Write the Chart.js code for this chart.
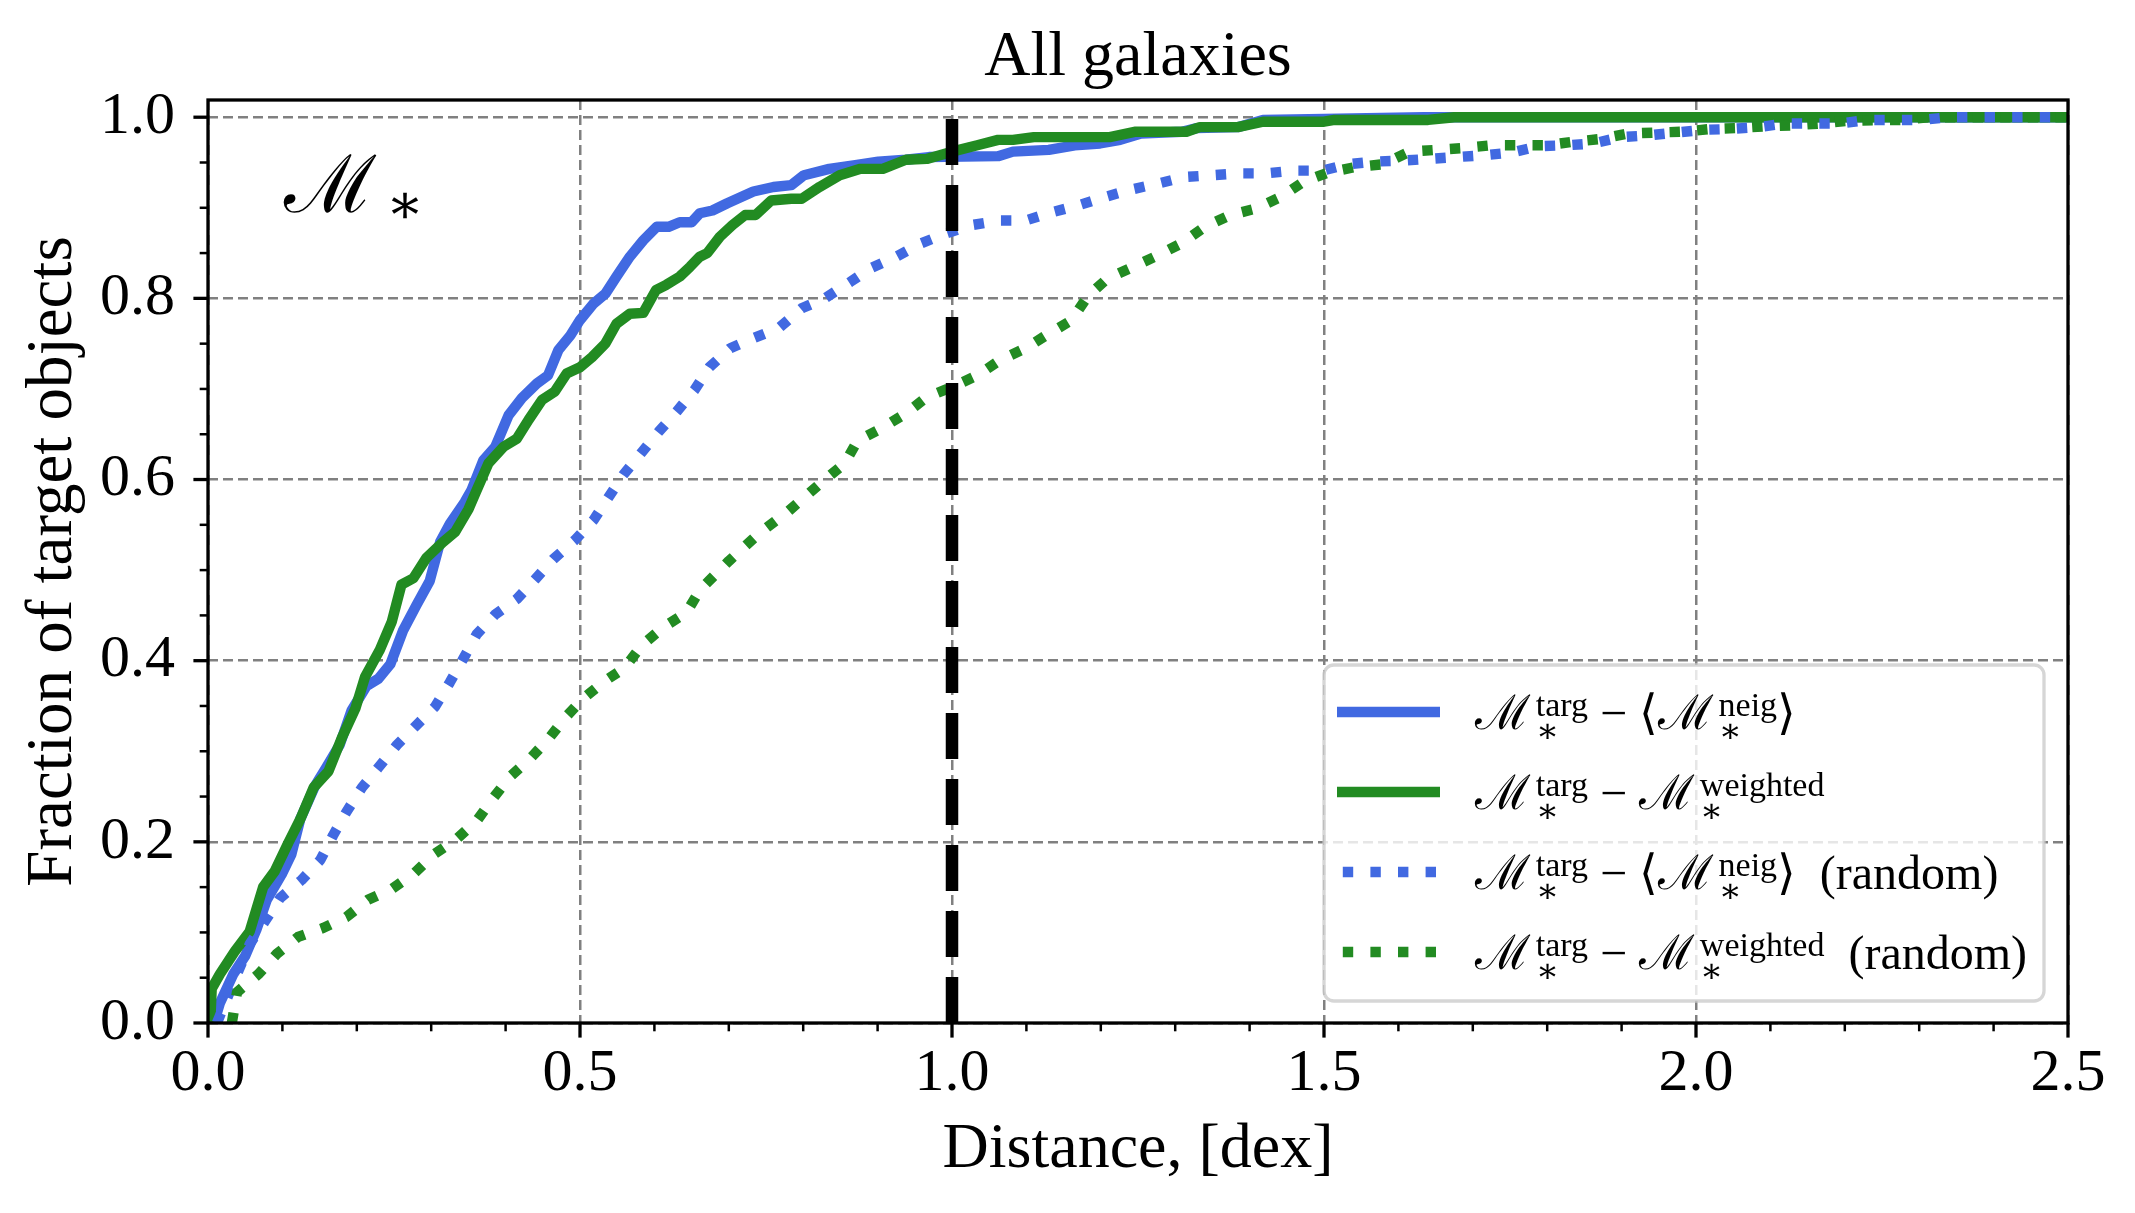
<!DOCTYPE html>
<html>
<head>
<meta charset="utf-8">
<title>All galaxies</title>
<script src="https://cdn.jsdelivr.net/npm/chart.js@4.4.1/dist/chart.umd.min.js"></script>
<style>
  html, body { margin: 0; padding: 0; background: #fff; }
  #wrap { width: 2135px; height: 1213px; }
</style>
</head>
<body>
<div id="wrap"><canvas id="chart" width="2135" height="1213"></canvas></div>
<script>
// Cumulative fraction of target objects vs distance (dex), all galaxies.
var FAMILY = '"Liberation Serif", "DejaVu Serif", serif';
var TITLE = 'All galaxies';

// ---------------- Axes ----------------
var xTicks = [0, 0.5, 1.0, 1.5, 2.0, 2.5];
var xTickLabels = ['0.0', '0.5', '1.0', '1.5', '2.0', '2.5'];
var xMinorTicks = [0.1, 0.2, 0.3, 0.4, 0.6, 0.7, 0.8, 0.9, 1.1, 1.2, 1.3, 1.4, 1.6, 1.7, 1.8, 1.9, 2.1, 2.2, 2.3, 2.4];
var yTicks = [0, 0.2, 0.4, 0.6, 0.8, 1.0];
var yTickLabels = ['0.0', '0.2', '0.4', '0.6', '0.8', '1.0'];
var yMinorTicks = [0.05, 0.1, 0.15, 0.25, 0.3, 0.35, 0.45, 0.5, 0.55, 0.65, 0.7, 0.75, 0.85, 0.9, 0.95];

// ---------------- Series ----------------
// M*targ - <M*neig>
var neigX = [0.008, 0.016, 0.034, 0.050, 0.065, 0.079, 0.099, 0.112, 0.124, 0.144, 0.159, 0.177, 0.193, 0.213, 0.229, 0.245, 0.262, 0.280, 0.298, 0.312, 0.325, 0.345, 0.354, 0.370, 0.386, 0.404, 0.422, 0.442, 0.457, 0.471, 0.487, 0.500, 0.518, 0.534, 0.549, 0.567, 0.585, 0.603, 0.619, 0.634, 0.650, 0.661, 0.678, 0.698, 0.733, 0.760, 0.784, 0.801, 0.835, 0.870, 0.901, 0.938, 0.969, 1.062, 1.082, 1.130, 1.165, 1.199, 1.226, 1.254, 1.309, 1.329, 1.384, 1.418, 1.500, 1.634, 2.500];
var neigY = [0.000, 0.022, 0.054, 0.074, 0.103, 0.136, 0.164, 0.186, 0.225, 0.262, 0.282, 0.307, 0.345, 0.372, 0.380, 0.396, 0.433, 0.461, 0.488, 0.531, 0.551, 0.575, 0.588, 0.621, 0.636, 0.671, 0.690, 0.706, 0.715, 0.743, 0.759, 0.776, 0.794, 0.805, 0.824, 0.846, 0.864, 0.879, 0.879, 0.884, 0.884, 0.894, 0.897, 0.905, 0.918, 0.923, 0.925, 0.936, 0.943, 0.947, 0.951, 0.953, 0.956, 0.957, 0.962, 0.964, 0.969, 0.971, 0.975, 0.982, 0.984, 0.988, 0.989, 0.997, 0.998, 1.000, 1.000];

// M*targ - M*weighted
var weightedX = [0.003, 0.005, 0.016, 0.036, 0.056, 0.074, 0.090, 0.108, 0.124, 0.142, 0.162, 0.180, 0.198, 0.211, 0.231, 0.247, 0.260, 0.276, 0.294, 0.316, 0.332, 0.350, 0.361, 0.377, 0.397, 0.415, 0.431, 0.449, 0.466, 0.482, 0.500, 0.516, 0.534, 0.549, 0.567, 0.585, 0.602, 0.616, 0.634, 0.648, 0.661, 0.671, 0.688, 0.705, 0.722, 0.736, 0.757, 0.784, 0.798, 0.822, 0.849, 0.877, 0.907, 0.938, 0.966, 1.000, 1.034, 1.062, 1.082, 1.110, 1.212, 1.247, 1.315, 1.333, 1.384, 1.418, 1.500, 1.514, 1.640, 1.675, 2.500];
var weightedY = [0.000, 0.038, 0.054, 0.079, 0.101, 0.150, 0.168, 0.199, 0.225, 0.260, 0.278, 0.315, 0.347, 0.382, 0.412, 0.443, 0.484, 0.491, 0.514, 0.531, 0.542, 0.567, 0.588, 0.618, 0.636, 0.645, 0.666, 0.688, 0.697, 0.717, 0.724, 0.735, 0.750, 0.772, 0.783, 0.784, 0.809, 0.815, 0.824, 0.835, 0.846, 0.850, 0.868, 0.881, 0.892, 0.892, 0.908, 0.910, 0.910, 0.923, 0.936, 0.943, 0.943, 0.953, 0.954, 0.962, 0.969, 0.975, 0.975, 0.978, 0.978, 0.984, 0.984, 0.989, 0.989, 0.995, 0.995, 0.997, 0.997, 1.000, 1.000];

// M*targ - <M*neig> (random)
var neigRandX = [0.012, 0.041, 0.056, 0.077, 0.097, 0.126, 0.151, 0.168, 0.186, 0.207, 0.229, 0.254, 0.278, 0.305, 0.325, 0.343, 0.361, 0.386, 0.415, 0.440, 0.464, 0.493, 0.518, 0.538, 0.558, 0.582, 0.606, 0.630, 0.654, 0.674, 0.702, 0.733, 0.767, 0.798, 0.829, 0.863, 0.890, 0.925, 0.959, 0.993, 1.027, 1.065, 1.099, 1.134, 1.171, 1.206, 1.240, 1.278, 1.312, 1.350, 1.387, 1.422, 1.460, 1.498, 1.531, 1.568, 1.605, 1.642, 1.678, 1.715, 1.752, 1.789, 1.826, 1.862, 1.899, 1.936, 1.973, 2.009, 2.046, 2.083, 2.120, 2.193, 2.230, 2.304, 2.340, 2.500];
var neigRandY = [0.000, 0.058, 0.087, 0.113, 0.138, 0.158, 0.180, 0.207, 0.233, 0.260, 0.282, 0.307, 0.327, 0.349, 0.376, 0.402, 0.429, 0.451, 0.468, 0.490, 0.512, 0.533, 0.555, 0.580, 0.605, 0.629, 0.653, 0.675, 0.699, 0.724, 0.745, 0.756, 0.767, 0.789, 0.800, 0.818, 0.833, 0.846, 0.861, 0.872, 0.881, 0.886, 0.886, 0.895, 0.903, 0.912, 0.920, 0.927, 0.934, 0.936, 0.938, 0.938, 0.941, 0.941, 0.948, 0.951, 0.952, 0.954, 0.956, 0.958, 0.961, 0.968, 0.969, 0.971, 0.978, 0.980, 0.983, 0.986, 0.987, 0.989, 0.993, 0.993, 0.997, 0.997, 1.000, 1.000];

// M*targ - M*weighted (random)
var weightedRandX = [0.032, 0.039, 0.068, 0.092, 0.121, 0.155, 0.186, 0.215, 0.247, 0.278, 0.305, 0.334, 0.361, 0.383, 0.406, 0.433, 0.457, 0.480, 0.504, 0.534, 0.560, 0.583, 0.612, 0.643, 0.661, 0.700, 0.740, 0.780, 0.825, 0.856, 0.873, 0.904, 0.938, 0.966, 1.000, 1.034, 1.065, 1.099, 1.130, 1.161, 1.182, 1.209, 1.244, 1.278, 1.309, 1.340, 1.374, 1.408, 1.442, 1.473, 1.506, 1.542, 1.579, 1.615, 1.652, 1.688, 1.725, 1.799, 1.836, 1.872, 1.909, 1.983, 2.019, 2.056, 2.093, 2.130, 2.167, 2.203, 2.277, 2.313, 2.500];
var weightedRandY = [0.000, 0.034, 0.054, 0.076, 0.095, 0.105, 0.117, 0.136, 0.148, 0.166, 0.187, 0.203, 0.223, 0.248, 0.272, 0.292, 0.313, 0.337, 0.358, 0.378, 0.392, 0.417, 0.437, 0.453, 0.478, 0.510, 0.540, 0.565, 0.597, 0.618, 0.643, 0.656, 0.673, 0.691, 0.702, 0.715, 0.732, 0.745, 0.761, 0.776, 0.802, 0.822, 0.835, 0.848, 0.861, 0.879, 0.892, 0.899, 0.912, 0.929, 0.939, 0.945, 0.948, 0.962, 0.964, 0.966, 0.969, 0.969, 0.973, 0.976, 0.982, 0.984, 0.987, 0.988, 0.990, 0.991, 0.993, 0.996, 0.997, 1.000, 1.000];

// vertical cut at 1 dex
var cutX = [1.0, 1.0];
var cutY = [0.0, 1.0];

function pts(xs, ys) { return xs.map(function (x, i) { return { x: x, y: ys[i] }; }); }

// ---------------- Math-ish text: base^{sup}_{sub} ----------------
function parseMath(str) {
  var re = /\^\{([^}]*)\}|_\{([^}]*)\}|[^^_]+/g, out = [], m;
  while ((m = re.exec(str))) {
    if (m[1] !== undefined) out.push({ kind: 'sup', text: m[1] });
    else if (m[2] !== undefined) out.push({ kind: 'sub', text: m[2] });
    else out.push({ kind: 'base', text: m[0] });
  }
  return out;
}

function drawMath(ctx, str, x, y, size) {
  var parts = parseMath(str);
  var small = Math.round(size * 0.7);
  ctx.textAlign = 'left'; ctx.textBaseline = 'alphabetic'; ctx.fillStyle = '#000';
  for (var i = 0; i < parts.length; i++) {
    var p = parts[i];
    if (p.kind === 'base') {
      ctx.font = size + 'px ' + FAMILY;
      ctx.fillText(p.text, x, y);
      x += ctx.measureText(p.text).width;
      continue;
    }
    var sup = p.kind === 'sup' ? p.text : null, sub = p.kind === 'sub' ? p.text : null;
    var nx = parts[i + 1];
    if (nx && nx.kind !== 'base' && nx.kind !== p.kind) { if (nx.kind === 'sup') sup = nx.text; else sub = nx.text; i++; }
    ctx.font = small + 'px ' + FAMILY;
    var x0 = x + size * 0.12, w = 0;
    if (sup) { ctx.fillText(sup, x0, y - size * 0.28); w = Math.max(w, ctx.measureText(sup).width); }
    if (sub) { ctx.fillText(sub, x0, y + size * (sup ? 0.27 : 0.14)); w = Math.max(w, ctx.measureText(sub).width); }
    x = x0 + w;
  }
}

// ---------------- Title, frame, ticks, label and legend ----------------
var decor = {
  id: 'decor',
  afterDatasetsDraw: function (chart) {
    var ctx = chart.ctx, a = chart.chartArea, sx = chart.scales.x, sy = chart.scales.y;
    var w = a.right - a.left, h = a.bottom - a.top;
    ctx.save();

    // title centred over the axes, not the canvas
    ctx.font = '64px ' + FAMILY;
    ctx.fillStyle = '#000';
    ctx.textAlign = 'center';
    ctx.textBaseline = 'middle';
    ctx.fillText(TITLE, (a.left + a.right) / 2, a.top - 42);

    ctx.strokeStyle = '#000';
    ctx.setLineDash([]);
    function seg(x1, y1, x2, y2, lw) { ctx.lineWidth = lw; ctx.beginPath(); ctx.moveTo(x1, y1); ctx.lineTo(x2, y2); ctx.stroke(); }
    xTicks.forEach(function (v) { var p = sx.getPixelForValue(v); seg(p, a.bottom, p, a.bottom + 14.6, 3.3); });
    xMinorTicks.forEach(function (v) { var p = sx.getPixelForValue(v); seg(p, a.bottom, p, a.bottom + 8.3, 2.5); });
    yTicks.forEach(function (v) { var p = sy.getPixelForValue(v); seg(a.left, p, a.left - 14.6, p, 3.3); });
    yMinorTicks.forEach(function (v) { var p = sy.getPixelForValue(v); seg(a.left, p, a.left - 8.3, p, 2.5); });
    ctx.lineWidth = 3.3;
    ctx.strokeRect(a.left, a.top, w, h);

    drawMath(ctx, '\u2133_{\u2217}', a.left + 0.041 * w, a.top + 0.121 * h, 80);

    // legend box, lower right
    var bw = 720, bh = 336;
    var bx = a.right - 24 - bw, by = a.bottom - 22 - bh;
    ctx.beginPath();
    ctx.roundRect(bx, by, bw, bh, 10);
    ctx.fillStyle = 'rgba(255,255,255,0.8)';
    ctx.fill();
    ctx.lineWidth = 3.3;
    ctx.strokeStyle = 'rgba(204,204,204,0.8)';
    ctx.stroke();
    var items = chart.data.datasets.filter(function (d) { return d.label; });
    items.forEach(function (d, i) {
      var yc = by + 47 + i * 80;
      ctx.save();
      ctx.strokeStyle = d.borderColor;
      ctx.lineWidth = d.borderWidth;
      ctx.lineCap = 'butt';
      ctx.setLineDash(d.borderDash || []);
      ctx.lineDashOffset = d.borderDash && d.borderDash.length ? 21.8 : 0;
      ctx.beginPath(); ctx.moveTo(bx + 13, yc); ctx.lineTo(bx + 116, yc); ctx.stroke();
      ctx.restore();
      drawMath(ctx, d.label, bx + 151, yc + 17, 48);
    });
    ctx.restore();
  }
};

var LW = 10.4;
var DOT = [10.4, 17.2];
var BLUE = '#4169e1', GREEN = '#228b22';

function serie(label, xs, ys, color, dash, order) {
  return {
    label: label, data: pts(xs, ys), borderColor: color, borderWidth: LW, borderDash: dash,
    borderCapStyle: dash.length ? 'butt' : 'square', borderJoinStyle: 'round',
    pointRadius: 0, tension: 0, fill: false, clip: 0, order: order
  };
}

new Chart(document.getElementById('chart').getContext('2d'), {
  type: 'line',
  data: {
    datasets: [
      serie('\u2133^{targ}_{\u2217} \u2212 \u27e8\u2133^{neig}_{\u2217}\u27e9', neigX, neigY, BLUE, [], 4),
      serie('\u2133^{targ}_{\u2217} \u2212 \u2133^{weighted}_{\u2217}', weightedX, weightedY, GREEN, [], 3),
      serie('\u2133^{targ}_{\u2217} \u2212 \u27e8\u2133^{neig}_{\u2217}\u27e9\u2002(random)', neigRandX, neigRandY, BLUE, DOT, 2),
      serie('\u2133^{targ}_{\u2217} \u2212 \u2133^{weighted}_{\u2217}\u2002(random)', weightedRandX, weightedRandY, GREEN, DOT, 1),
      { label: '', data: pts(cutX, cutY), borderColor: '#000', borderWidth: 12.5, borderDash: [46, 20],
        borderCapStyle: 'butt', pointRadius: 0, fill: false, clip: 0, order: 0 }
    ]
  },
  options: {
    responsive: false,
    devicePixelRatio: 1,
    animation: false,
    events: [],
    layout: { padding: { left: 0, right: 67, top: 100, bottom: 0 } },
    plugins: {
      legend: { display: false },
      tooltip: { enabled: false },
      title: { display: false }
    },
    scales: {
      x: {
        type: 'linear', min: 0, max: 2.5,
        afterBuildTicks: function (s) { s.ticks = xTicks.map(function (v) { return { value: v }; }); },
        afterFit: function (s) { s.height = 190; },
        grid: { color: '#808080', lineWidth: 2.5, drawTicks: false },
        border: { display: false, dash: [10, 5] },
        ticks: {
          color: '#000', padding: 15, autoSkip: false, maxRotation: 0,
          font: { family: FAMILY, size: 60 },
          callback: function (v, i) { return xTickLabels[i]; }
        },
        title: {
          display: true, text: 'Distance, [dex]', color: '#000',
          font: { family: FAMILY, size: 64 }, padding: { top: 0, bottom: 24 }
        }
      },
      y: {
        type: 'linear', min: 0, max: 1.019,
        afterBuildTicks: function (s) { s.ticks = yTicks.map(function (v) { return { value: v }; }); },
        afterFit: function (s) { s.width = 208; },
        grid: { color: '#808080', lineWidth: 2.5, drawTicks: false },
        border: { display: false, dash: [10, 5] },
        ticks: {
          color: '#000', padding: 33, autoSkip: false,
          font: { family: FAMILY, size: 60 },
          callback: function (v, i) { return yTickLabels[i]; }
        },
        title: {
          display: true, text: 'Fraction of target objects', color: '#000',
          font: { family: FAMILY, size: 65 }, padding: { top: 15, bottom: 0 }
        }
      }
    }
  },
  plugins: [decor]
});
</script>
</body>
</html>
